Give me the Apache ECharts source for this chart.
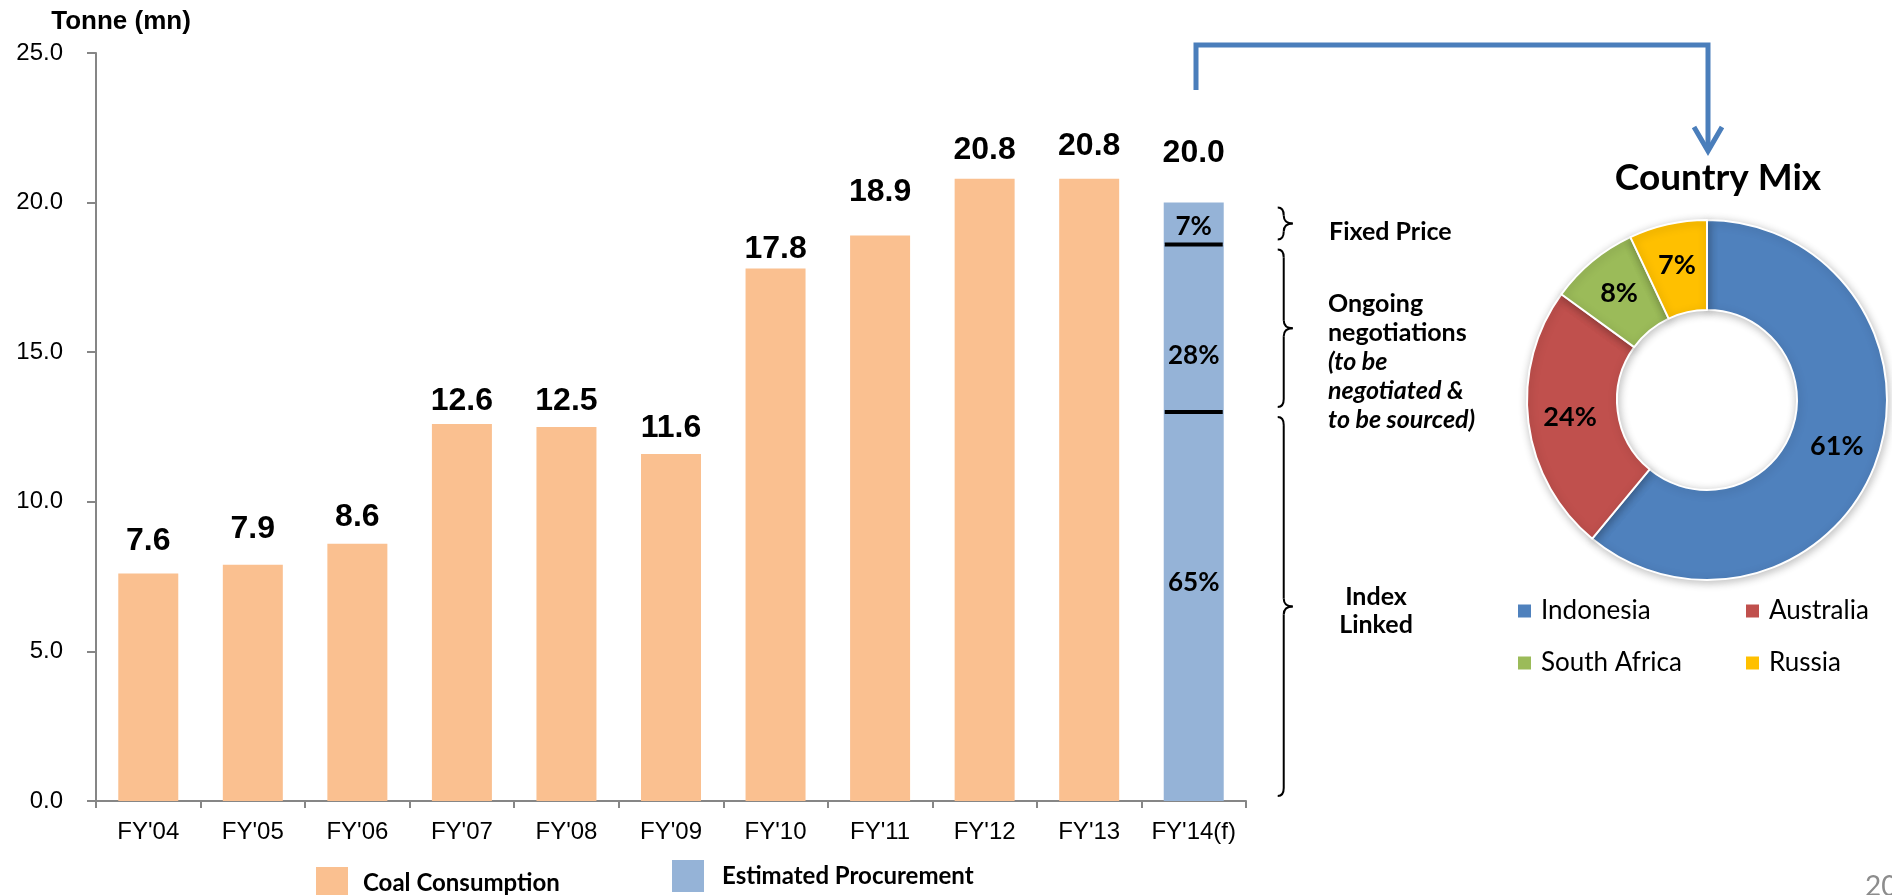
<!DOCTYPE html>
<html>
<head>
<meta charset="utf-8">
<script src="https://cdn.jsdelivr.net/npm/echarts@6/dist/echarts.min.js"></script>
<style>
  html, body { margin: 0; padding: 0; background: #fff; }
  #chart { width: 1892px; height: 895px; }
</style>
</head>
<body>
<div id="chart"></div>
<script>
// ---- data ----
const categories = ["FY'04", "FY'05", "FY'06", "FY'07", "FY'08", "FY'09", "FY'10", "FY'11", "FY'12", "FY'13", "FY'14(f)"];
const coalConsumption = [7.6, 7.9, 8.6, 12.6, 12.5, 11.6, 17.8, 18.9, 20.8, 20.8, null];
const procurementYear = "FY'14(f)";
const procurementTotal = 20.0;
const procurementMix = ['Index Linked', 'Ongoing negotiations', 'Fixed Price'];
const procurementShares = [65, 28, 7];
const countries = ['Indonesia', 'Australia', 'South Africa', 'Russia'];
const countryShares = [61, 24, 8, 7];
const yTicks = [0, 5, 10, 15, 20, 25];

// ---- styling ----
const ORANGE = '#FAC090';
const LIGHT_BLUE = '#95B3D7';
const COUNTRY_COLORS = ['#4F81BD', '#C0504D', '#9BBB59', '#FFC000'];
const ARIAL = '"Liberation Sans", Arial, sans-serif';
const CAL = 'Lato, "Open Sans", sans-serif';
const coalLabelLift = [16, 19, 11, 7, 10, 10, 3, 27, 12, 16, 0];
const shareLabelOffset = [[0, -24], [0, 27], [0, 3]];

const procIdx = categories.indexOf(procurementYear);

// stacked segments of the forecast bar, built from the shares
const segments = [];
let acc = 0;
procurementShares.forEach((s, i) => {
  const v = procurementTotal * s / 100;
  segments.push({ name: procurementMix[i], share: s, lo: acc, hi: acc + v });
  acc += v;
});

const chart = echarts.init(document.getElementById('chart'), null, { renderer: 'canvas' });

const series = [];

series.push({
  name: 'Coal Consumption',
  type: 'bar',
  stack: 'fy',
  barWidth: 60,
  itemStyle: { color: ORANGE },
  data: coalConsumption.map((v, i) => v == null ? '-' : {
    value: v,
    label: { distance: coalLabelLift[i] }
  }),
  label: {
    show: true, position: 'top', color: '#000',
    fontFamily: ARIAL, fontWeight: 'bold', fontSize: 32,
    formatter: p => Number(p.value).toFixed(1)
  }
});

segments.forEach((seg, k) => {
  series.push({
    name: 'Estimated Procurement',
    type: 'bar',
    stack: 'fy',
    barWidth: 60,
    itemStyle: { color: LIGHT_BLUE },
    data: categories.map((c, i) => i === procIdx ? seg.hi - seg.lo : '-'),
    label: {
      show: true, position: 'inside', color: '#000',
      fontFamily: CAL, fontWeight: 'bold', fontSize: 26,
      offset: shareLabelOffset[k],
      formatter: () => seg.share + '%'
    }
  });
});

// total on top of the forecast stack
series.push({
  name: 'Estimated Procurement',
  type: 'bar',
  stack: 'fy',
  barWidth: 60,
  itemStyle: { color: LIGHT_BLUE },
  data: categories.map((c, i) => i === procIdx ? 0 : '-'),
  label: {
    show: true, position: 'top', distance: 33, color: '#000',
    fontFamily: ARIAL, fontWeight: 'bold', fontSize: 32,
    formatter: () => procurementTotal.toFixed(1)
  }
});

// divider lines inside the forecast bar and the braces beside it
series.push({
  name: 'procurementMarks',
  type: 'custom',
  clip: false,
  z: 5,
  silent: true,
  data: segments.map((s, k) => [procIdx, s.lo, s.hi, k === segments.length - 1 ? 1 : 0]),
  renderItem: function (params, api) {
    const idx = api.value(0);
    const pLo = api.coord([idx, api.value(1)]);
    const pHi = api.coord([idx, api.value(2)]);
    const isTop = api.value(3) === 1;
    const cx = pLo[0];
    const children = [];
    const lineStyle = { stroke: '#000', lineWidth: 2, fill: null };
    if (!isTop) {
      children.push({
        type: 'line',
        shape: { x1: cx - 29, y1: pHi[1], x2: cx + 29, y2: pHi[1] },
        style: { stroke: '#000', lineWidth: 4 }
      });
    }
    const y1 = pHi[1] + 5;
    const y2 = pLo[1] - 5;
    const ym = (y1 + y2) / 2;
    const hx = cx + 84, vx = cx + 90, px = cx + 99;
    const r = Math.min(8, (ym - y1) / 2);
    children.push(
      { type: 'bezierCurve', shape: { x1: hx, y1: y1, cpx1: vx, cpy1: y1, x2: vx, y2: y1 + r }, style: lineStyle },
      { type: 'line', shape: { x1: vx, y1: y1 + r, x2: vx, y2: ym - r }, style: lineStyle },
      { type: 'bezierCurve', shape: { x1: vx, y1: ym - r, cpx1: vx, cpy1: ym, x2: px, y2: ym }, style: lineStyle },
      { type: 'bezierCurve', shape: { x1: px, y1: ym, cpx1: vx, cpy1: ym, x2: vx, y2: ym + r }, style: lineStyle },
      { type: 'line', shape: { x1: vx, y1: ym + r, x2: vx, y2: y2 - r }, style: lineStyle },
      { type: 'bezierCurve', shape: { x1: vx, y1: y2 - r, cpx1: vx, cpy1: y2, x2: hx, y2: y2 }, style: lineStyle }
    );
    return { type: 'group', children: children };
  }
});

series.push({
  name: 'Country Mix',
  type: 'pie',
  center: [1707, 400],
  radius: [90, 180],
  startAngle: 90,
  clockwise: true,
  silent: true,
  label: {
    show: true, position: 'inside', color: '#000',
    fontFamily: CAL, fontWeight: 'bold', fontSize: 27,
    formatter: '{c}%'
  },
  labelLine: { show: false },
  itemStyle: {
    borderColor: '#fff', borderWidth: 2,
    shadowBlur: 8, shadowOffsetX: 1, shadowOffsetY: 2, shadowColor: 'rgba(0,0,0,0.25)'
  },
  data: countries.map((n, i) => ({ name: n, value: countryShares[i], itemStyle: { color: COUNTRY_COLORS[i] } }))
});

const legendText = { fontFamily: CAL, fontSize: 26, color: '#000', padding: [0, 0, 0, 4] };

const option = {
  animation: false,
  backgroundColor: '#fff',
  title: {
    text: 'Country Mix',
    left: 1713, top: 155, textAlign: 'center',
    textStyle: { fontFamily: CAL, fontWeight: 'bold', fontSize: 37, color: '#000' }
  },
  grid: { left: 96, right: 646, top: 53, bottom: 94, containLabel: false },
  xAxis: {
    type: 'category',
    data: categories,
    boundaryGap: true,
    axisLine: { lineStyle: { color: '#868686', width: 2 } },
    axisTick: { show: true, length: 7, lineStyle: { color: '#868686', width: 2 } },
    axisLabel: { color: '#000', fontFamily: ARIAL, fontSize: 24, margin: 19, interval: 0 }
  },
  yAxis: {
    type: 'value',
    min: yTicks[0],
    max: yTicks[yTicks.length - 1],
    interval: yTicks[1] - yTicks[0],
    name: 'Tonne (mn)',
    nameLocation: 'end',
    nameGap: 18,
    nameTextStyle: { color: '#000', fontFamily: ARIAL, fontWeight: 'bold', fontSize: 26, align: 'center', padding: [0, 0, 0, 50] },
    axisLine: { show: true, lineStyle: { color: '#868686', width: 2 } },
    axisTick: { show: true, length: 9, lineStyle: { color: '#868686', width: 2 } },
    splitLine: { show: false },
    axisLabel: { color: '#000', fontFamily: ARIAL, fontSize: 24, margin: 33, formatter: v => v.toFixed(1) }
  },
  legend: [
    {
      data: ['Coal Consumption'], left: 316, top: 867, padding: 0, itemWidth: 32, itemHeight: 32, icon: 'rect',
      selectedMode: false,
      textStyle: { fontFamily: CAL, fontWeight: 'bold', fontSize: 24, color: '#000', padding: [0, 0, 0, 10] }
    },
    {
      data: ['Estimated Procurement'], left: 672, top: 860, padding: 0, itemWidth: 32, itemHeight: 32, icon: 'rect',
      selectedMode: false,
      textStyle: { fontFamily: CAL, fontWeight: 'bold', fontSize: 24, color: '#000', padding: [0, 0, 0, 13] }
    },
    {
      data: ['Indonesia', 'South Africa'], orient: 'vertical', left: 1516, top: 598, padding: 0,
      itemWidth: 15, itemHeight: 15, itemGap: 26, icon: 'rect', selectedMode: false,
      textStyle: legendText
    },
    {
      data: ['Australia', 'Russia'], orient: 'vertical', left: 1744, top: 598, padding: 0,
      itemWidth: 15, itemHeight: 15, itemGap: 26, icon: 'rect', selectedMode: false,
      textStyle: legendText
    }
  ],
  graphic: [
    // connector from the forecast bar to the country mix
    {
      type: 'polyline', silent: true,
      shape: { points: [[1196, 90], [1196, 45], [1708, 45], [1708, 148]] },
      style: { stroke: '#4A7EBB', lineWidth: 5, fill: null, lineJoin: 'miter' }
    },
    {
      type: 'polyline', silent: true,
      shape: { points: [[1694, 127], [1708, 151], [1722, 127]] },
      style: { stroke: '#4A7EBB', lineWidth: 5, fill: null, lineJoin: 'miter' }
    },
    {
      type: 'text', silent: true,
      style: { text: 'Fixed Price', x: 1329, y: 232, verticalAlign: 'middle', fontFamily: CAL, fontWeight: 'bold', fontSize: 25, fill: '#000' }
    },
    {
      type: 'text', silent: true,
      style: {
        text: '{b|Ongoing}\n{b|negotiations}\n{i|(to be}\n{i|negotiated &}\n{i|to be sourced)}',
        x: 1328, y: 289,
        fill: '#000',
        rich: {
          b: { fontFamily: CAL, fontWeight: 'bold', fontSize: 25, lineHeight: 29 },
          i: { fontFamily: CAL, fontWeight: 'bold', fontStyle: 'italic', fontSize: 25, lineHeight: 29 }
        }
      }
    },
    {
      type: 'text', silent: true,
      style: {
        text: 'Index\nLinked', x: 1376, y: 583, align: 'center',
        fontFamily: CAL, fontWeight: 'bold', fontSize: 25, lineHeight: 28, fill: '#000'
      }
    },
    {
      type: 'text', silent: true,
      style: { text: '20', x: 1865, y: 873, fontFamily: CAL, fontSize: 28, fill: '#8C8C8C' }
    }
  ],
  series: series
};

chart.setOption(option);
</script>
</body>
</html>
